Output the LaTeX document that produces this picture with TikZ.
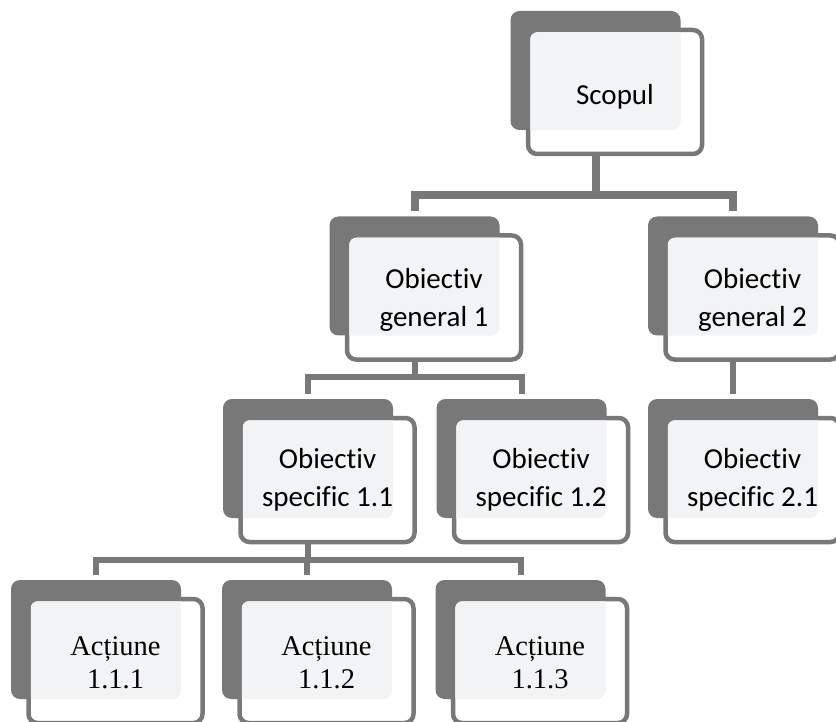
\documentclass[tikz,border=0pt]{standalone}
\usepackage{fontspec}
\newfontfamily\calibrifont[Ligatures=NoCommon]{Carlito}
\newfontfamily\timesfont{Liberation Serif}
\newcommand\objfont{\calibrifont\fontsize{29}{38}\selectfont}
\newcommand\actfont{\timesfont\fontsize{28.5}{33}\selectfont}
\definecolor{boxgray}{HTML}{787878}
\definecolor{boxlight}{HTML}{F2F3F5}
\begin{document}
\begin{tikzpicture}[x=1pt,y=-1pt,
	backbox/.style={rectangle,rounded corners=9pt,fill=boxgray,minimum width=170pt,minimum height=119pt,inner sep=0pt},
	frontbox/.style={rectangle,rounded corners=9pt,draw=boxgray,line width=4.5pt,fill=white,minimum width=174pt,minimum height=124pt,inner sep=0pt},
	innerbox/.style={rectangle,rounded corners=7pt,fill=boxlight,minimum width=169.5pt,minimum height=119.5pt,inner sep=0pt},
	textbox/.style={align=center,inner sep=0pt},
	conn/.style={draw=boxgray,line width=6pt}]
				\fill[white] (0,0) rectangle (836,722);
				\useasboundingbox (0,0) rectangle (836,722);
				
				\foreach \name/\pos/\txt/\fnt/\dy in {scop/{615,92}/{Scopul}/\objfont/5,
					og1/{434,297.5}/{Obiectiv\\general 1}/\objfont/2,
					og2/{752.5,297.5}/{Obiectiv\\general 2}/\objfont/2,
					os11/{327.5,480}/{Obiectiv\\specific 1.1}/\objfont/0,
					os12/{541,480}/{Obiectiv\\specific 1.2}/\objfont/0,
					os21/{752.5,480}/{Obiectiv\\specific 2.1}/\objfont/0,
					a1/{115.5,661}/{Acțiune\\1.1.1}/\actfont/2,
					a2/{326.5,661}/{Acțiune\\1.1.2}/\actfont/2,
					a3/{540,661}/{Acțiune\\1.1.3}/\actfont/2}
				{\node [backbox,xshift=-19.5pt,yshift=21.5pt] (\name b) at (\pos) {};
					\node [frontbox] (\name) at (\pos) {};
					\begin{scope}
						\clip[rounded corners=9pt] (\name b.south west) rectangle (\name b.north east);
						\node [innerbox] at (\pos) {};
					\end{scope}
					\node [textbox,font=\fnt,yshift=-\dy pt] (\name t) at (\pos) {\txt};}
				
				\foreach \child in {og1,og2}
				\draw [conn,line width=8pt,shorten >=5pt] (scopb |- scop.south) -- ++(0,39) -| (\child b.north);
				\foreach \child in {os11,os12}
				\draw [conn,shorten >=5pt] (og1b |- og1.south) -- ++(0,15) -| (\child b.north);
				\draw [conn,shorten >=5pt] (og2b |- og2.south) -- (os21b.north);
				\foreach \child in {a1,a2,a3}
				\draw [conn,shorten >=5pt] (os11b |- os11.south) -- ++(0,16) -| (\child b.north);
				
			\end{tikzpicture}
\end{document}
